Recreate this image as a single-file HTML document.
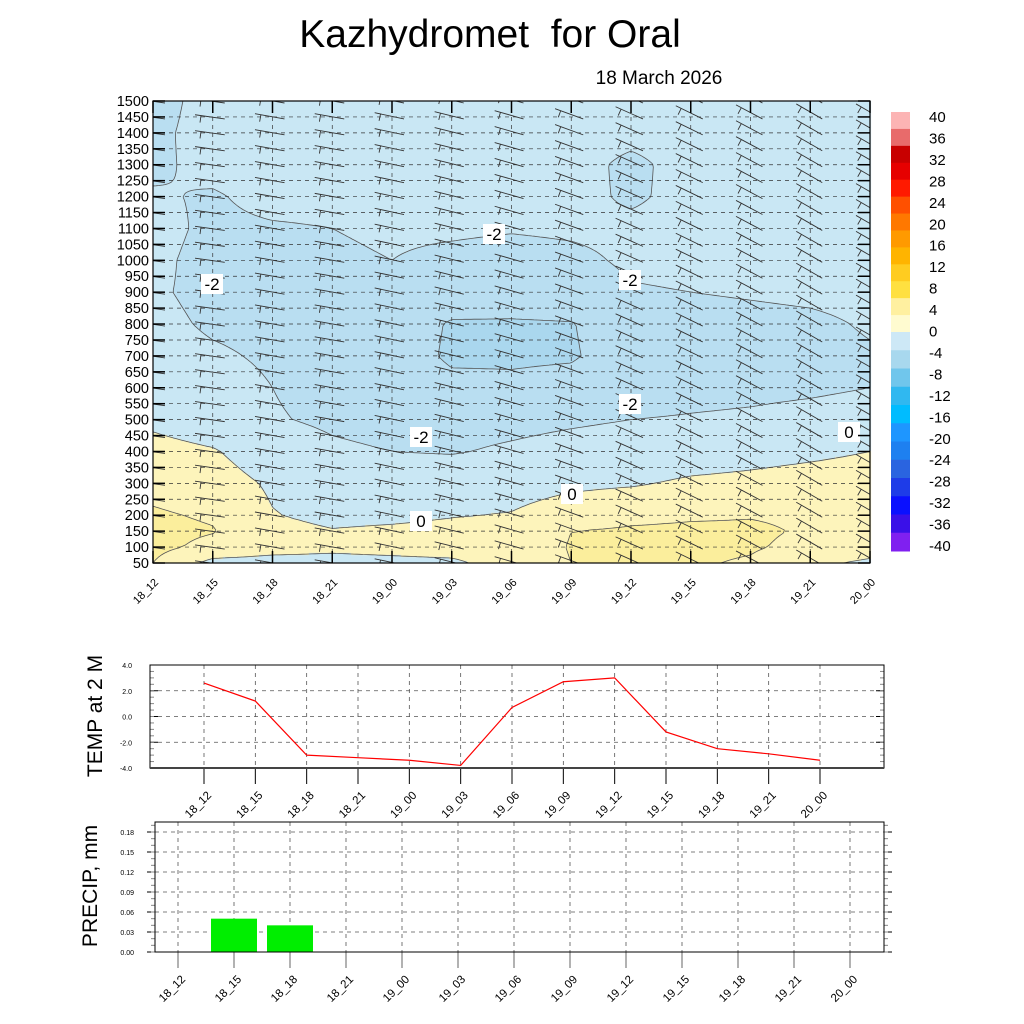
<!DOCTYPE html>
<html><head><meta charset="utf-8"><style>
html,body{margin:0;padding:0;background:#fff;}
#wrap{position:relative;width:1024px;height:1024px;overflow:hidden;font-family:"Liberation Sans",sans-serif;}
canvas{position:absolute;left:0;top:0;}
svg{position:absolute;left:0;top:0;}
</style></head><body>
<div id="wrap">
<canvas id="fill" width="1024" height="1024"></canvas>
<svg id="svg" width="1024" height="1024" xmlns="http://www.w3.org/2000/svg">
<defs><clipPath id="mainclip"><rect x="153" y="101" width="717" height="462"/></clipPath></defs>
<text x="490" y="47" font-size="39" text-anchor="middle" font-family="Liberation Sans" xml:space="preserve" style="white-space:pre">Kazhydromet  for Oral</text>
<text x="659" y="84" font-size="19" text-anchor="middle" font-family="Liberation Sans">18 March 2026</text>
</svg>
</div>
<script>
const times=['18_12','18_15','18_18','18_21','19_00','19_03','19_06','19_09','19_12','19_15','19_18','19_21','20_00'];
const levelLabels=[1500,1450,1400,1350,1300,1250,1200,1150,1100,1050,1000,950,900,850,800,750,700,650,600,550,500,450,400,350,300,250,200,150,100,50];
const gridP=[1500,1400,1300,1200,1100,1000,900,800,700,600,500,400,300,200,150,100,50];
const gridT=[
[-2.5,-1.5,-1.5,-1.5,-1.5,-1.5,-1.5,-1.5,-1.5,-1.5,-1.5,-1.5,-1.5],
[-2.3,-1.5,-1.5,-1.5,-1.5,-1.5,-1.5,-1.5,-1.6,-1.5,-1.5,-1.5,-1.5],
[-2.2,-1.7,-1.5,-1.5,-1.5,-1.5,-1.5,-1.5,-2.3,-1.5,-1.5,-1.5,-1.5],
[-1.9,-2.1,-1.7,-1.7,-1.6,-1.6,-1.6,-1.6,-2.2,-1.6,-1.6,-1.6,-1.6],
[-1.7,-2.2,-2.1,-2.0,-1.8,-1.8,-1.9,-1.8,-1.7,-1.6,-1.6,-1.6,-1.6],
[-1.8,-2.3,-2.4,-2.2,-2.0,-2.3,-2.5,-2.3,-1.8,-1.7,-1.7,-1.7,-1.7],
[-1.9,-2.2,-2.6,-2.5,-2.5,-2.8,-3.0,-2.8,-2.1,-2.0,-1.9,-1.8,-1.7],
[-1.8,-2.1,-2.2,-2.5,-2.8,-4.2,-4.2,-4.1,-2.8,-2.4,-2.3,-2.2,-1.9],
[-1.7,-1.9,-2.1,-2.5,-3.0,-4.3,-4.3,-4.2,-3.0,-2.6,-2.5,-2.3,-2.1],
[-1.5,-1.7,-2.0,-2.4,-2.8,-3.5,-3.6,-3.3,-2.6,-2.4,-2.3,-2.2,-2.0],
[-0.5,-1.4,-1.9,-2.2,-2.4,-2.5,-2.4,-2.2,-2.0,-1.9,-1.8,-1.6,-1.4],
[0.8,0.2,-1.3,-1.8,-2.0,-2.1,-1.8,-1.5,-1.3,-1.0,-0.7,-0.4,0.0],
[1.5,1.0,-0.3,-1.1,-1.1,-1.0,-0.8,-0.4,-0.2,0.3,0.5,0.8,1.0],
[2.2,1.8,0.1,-0.5,-0.4,-0.1,0.1,1.0,1.6,1.8,1.9,1.7,1.2],
[2.5,2.1,0.6,0.1,0.3,0.5,0.8,2.0,2.2,2.3,2.3,1.8,1.3],
[2.5,1.5,0.8,0.5,0.7,0.9,1.0,2.1,2.4,2.4,2.2,1.5,1.0],
[2.0,-0.6,-0.8,-0.8,-0.6,-0.4,1.0,2.0,2.2,2.2,1.8,0.5,-0.4]];
const windDir=[8,8,10,10,12,14,16,20,24,26,28,30,30];
const contourLevels=[-4,-2,0,2];
const cbLabels=[40,36,32,28,24,20,16,12,8,4,0,-4,-8,-12,-16,-20,-24,-28,-32,-36,-40];
const tempVals=[2.6,1.2,-3.0,-3.2,-3.4,-3.8,0.7,2.7,3.0,-1.2,-2.5,-2.9,-3.4];
const tempTicks=[4.0,2.0,0.0,-2.0,-4.0];
const precipVals=[0,0.05,0.04,0,0,0,0,0,0,0,0,0,0];
const precipTicks=[0.00,0.03,0.06,0.09,0.12,0.15,0.18];

const NS='http://www.w3.org/2000/svg';
const svg=document.getElementById('svg');
function mk(tag,attrs,parent){const e=document.createElementNS(NS,tag);for(const k in attrs)e.setAttribute(k,attrs[k]);(parent||svg).appendChild(e);return e;}

const X0=153,X1=870,Y0=101,Y1=563;
const xOf=i=>X0+i*(X1-X0)/(times.length-1);
const yOf=p=>Y1-(p-50)/1450*(Y1-Y0);
const pOf=y=>50+(Y1-y)/(Y1-Y0)*1450;
function field(x,y){
  const t=(x-X0)/(X1-X0)*(times.length-1);
  let i=Math.max(0,Math.min(times.length-2,Math.floor(t)));const ft=t-i;
  const p=pOf(y);
  let j=0;while(j<gridP.length-2&&p<gridP[j+1])j++;
  const fp=(gridP[j]-p)/(gridP[j]-gridP[j+1]);
  const a=gridT[j][i]*(1-ft)+gridT[j][i+1]*ft;
  const b=gridT[j+1][i]*(1-ft)+gridT[j+1][i+1]*ft;
  return a*(1-fp)+b*fp;
}
function colorFor(v){
  if(v>=2)return '#fbee9c';
  if(v>=0)return '#fdf4bb';
  if(v>=-2)return '#c9e7f4';
  if(v>=-4)return '#b9def1';
  return '#aad7ee';
}
const ctx=document.getElementById('fill').getContext('2d');
for(let y=Y0;y<Y1;y+=2){for(let x=X0;x<X1;x+=2){ctx.fillStyle=colorFor(field(x+1,y+1));ctx.fillRect(x,y,2,2);}}

const cbStops=['#fcb4b4','#e86b6b','#c80000','#e60000','#ff1a00','#ff5000','#ff7800','#ff9a00','#ffb400','#ffcc20','#ffe040','#fff0a0','#fffbd0'];
const cbBlue=['#cde8f6','#a8d8ee','#70c6ec','#30b8f0','#00bcff','#1e96ff','#1e80f0','#2a64e0','#1e3ce8','#0a10ff','#3a10e8','#8020f0'];
const cbTop=112,cbBot=551,cbMid=332;
cbStops.forEach((c,k)=>{const h=(cbMid-cbTop)/cbStops.length;const r=mk('rect',{x:891,y:cbTop+k*h,width:19,height:h+0.5,fill:c});});
cbBlue.forEach((c,k)=>{const h=(cbBot-cbMid)/cbBlue.length;const r=mk('rect',{x:891,y:cbMid+k*h,width:19,height:h+0.5,fill:c});});
cbLabels.forEach((v,k)=>{const t=mk('text',{x:929,y:cbTop+5+k*(cbBot-cbTop-10)/(cbLabels.length-1)+5,'font-size':15});t.textContent=v;});

let d='';const S=3;
const nx=Math.floor((X1-X0)/S),ny=Math.floor((Y1-Y0)/S);
const F=[];for(let j=0;j<=ny;j++){F[j]=[];for(let i=0;i<=nx;i++)F[j][i]=field(X0+i*S,Y0+j*S);}
contourLevels.forEach(L=>{
 for(let j=0;j<ny;j++)for(let i=0;i<nx;i++){
  const v=[F[j][i],F[j][i+1],F[j+1][i+1],F[j+1][i]];
  const px=[[0,0],[1,0],[1,1],[0,1]];
  const pts=[];
  for(let e=0;e<4;e++){const a=v[e],b=v[(e+1)%4];if((a<L)!==(b<L)){const f=(L-a)/(b-a);const p1=px[e],p2=px[(e+1)%4];pts.push([X0+(i+p1[0]+(p2[0]-p1[0])*f)*S,Y0+(j+p1[1]+(p2[1]-p1[1])*f)*S]);}}
  if(pts.length>=2)d+='M'+pts[0][0].toFixed(1)+' '+pts[0][1].toFixed(1)+'L'+pts[1][0].toFixed(1)+' '+pts[1][1].toFixed(1);
  if(pts.length===4)d+='M'+pts[2][0].toFixed(1)+' '+pts[2][1].toFixed(1)+'L'+pts[3][0].toFixed(1)+' '+pts[3][1].toFixed(1);
 }});
const cl=mk('path',{d:d,stroke:'#555',fill:'none','stroke-width':0.8});


const gg=mk('g',{stroke:'#333','stroke-width':0.7,'stroke-dasharray':'4,4'});

levelLabels.forEach(p=>mk('line',{x1:X0,x2:X1,y1:yOf(p),y2:yOf(p)},gg));
times.forEach((t,i)=>mk('line',{x1:xOf(i),x2:xOf(i),y1:Y0,y2:Y1},gg));

const bg=mk('g',{stroke:'#333','stroke-width':0.9,fill:'none','clip-path':'url(#mainclip)'});

times.forEach((t,i)=>{levelLabels.forEach(p=>{
 const a=windDir[i]*Math.PI/180;const sx=xOf(i)+12,sy=yOf(p)+2;
 const L=30;const tx=sx-L*Math.cos(a),ty=sy-L*Math.sin(a);
 const bx=tx+6*Math.cos(a),by=ty+6*Math.sin(a);
 mk('path',{d:`M${sx} ${sy}L${tx} ${ty}M${bx} ${by}l${-7*Math.sin(a)} ${7*Math.cos(a)}`},bg);
});});

[[212,284,'-2'],[494,234,'-2'],[630,280,'-2'],[421,437,'-2'],[630,404,'-2'],[572,494,'0'],[421,521,'0'],[849,432,'0']].forEach(c=>{
 mk('rect',{x:c[0]-11,y:c[1]-10,width:22,height:20,fill:'#fff'});
 const t=mk('text',{x:c[0],y:c[1]+6,'font-size':17,'text-anchor':'middle'});t.textContent=c[2];
 });

const fr=mk('rect',{x:X0,y:Y0,width:X1-X0,height:Y1-Y0,fill:'none',stroke:'#000','stroke-width':1.2});

levelLabels.forEach(p=>{const y=yOf(p);mk('line',{x1:X0,x2:X0+12,y1:y,y2:y,stroke:'#000','stroke-width':1.5});mk('line',{x1:X1-12,x2:X1,y1:y,y2:y,stroke:'#000','stroke-width':1.5});
 const t=mk('text',{x:X0-4,y:y+5,'font-size':14.5,'text-anchor':'end'});t.textContent=p;});
times.forEach((tm,i)=>{const x=xOf(i);mk('line',{x1:x,x2:x,y1:Y0,y2:Y0+12,stroke:'#000','stroke-width':1.5});mk('line',{x1:x,x2:x,y1:Y1,y2:Y1-12,stroke:'#000','stroke-width':1.5});
 const t=mk('text',{x:0,y:0,'font-size':11,'text-anchor':'end',transform:`translate(${x+6},${Y1+20}) rotate(-45)`});t.textContent=tm;});

const TX0=150,TX1=884,TY0=665,TY1=768;
const txOf=i=>204+i*(820-204)/(times.length-1);
const tyOf=v=>TY1-(v+4)/8*(TY1-TY0);
const tg=mk('g',{});
tempTicks.forEach(v=>{const y=tyOf(v);if(v>-4&&v<4)mk('line',{x1:TX0,x2:TX1,y1:y,y2:y,stroke:'#555','stroke-dasharray':'4,4','stroke-width':0.8},tg);
 mk('line',{x1:TX0,x2:TX0+8,y1:y,y2:y,stroke:'#000'},tg);mk('line',{x1:TX1-8,x2:TX1,y1:y,y2:y,stroke:'#000'},tg);
 const t=mk('text',{x:TX0-18,y:y+3,'font-size':7,'text-anchor':'end'},tg);t.textContent=v.toFixed(1);});
for(let v=-4;v<=4;v+=0.5){const y=tyOf(v);mk('line',{x1:TX0,x2:TX0+4,y1:y,y2:y,stroke:'#888'},tg);mk('line',{x1:TX1-4,x2:TX1,y1:y,y2:y,stroke:'#888'},tg);}
times.forEach((tm,i)=>{const x=txOf(i);mk('line',{x1:x,x2:x,y1:TY0,y2:TY1,stroke:'#555','stroke-dasharray':'4,4','stroke-width':0.8},tg);
 mk('line',{x1:x,x2:x,y1:TY1,y2:TY1+16,stroke:'#000'},tg);
 const t=mk('text',{x:0,y:0,'font-size':11.5,'text-anchor':'end',transform:`translate(${x+8},${TY1+28}) rotate(-45)`},tg);t.textContent=tm;});
mk('rect',{x:TX0,y:TY0,width:TX1-TX0,height:TY1-TY0,fill:'none',stroke:'#000'},tg);
mk('line',{x1:TX0,x2:TX1,y1:TY1,y2:TY1,stroke:'#444','stroke-width':2},tg);
const tl=mk('polyline',{points:tempVals.map((v,i)=>txOf(i)+','+tyOf(v)).join(' '),fill:'none',stroke:'#f00','stroke-width':1.2},tg);

const ty=mk('text',{x:0,y:0,'font-size':21,'text-anchor':'middle',transform:'translate(102,716) rotate(-90)'});ty.textContent='TEMP at 2 M';

const PX0=155,PX1=884,PY0=822,PY1=952;
const pxOf=i=>178+i*(850-178)/(times.length-1);
const pyOf=v=>PY1-v/0.18*(PY1-832);
const pg=mk('g',{});
precipTicks.forEach(v=>{const y=pyOf(v);if(v>0)mk('line',{x1:PX0,x2:PX1,y1:y,y2:y,stroke:'#555','stroke-dasharray':'4,4','stroke-width':0.8},pg);
 mk('line',{x1:PX0-8,x2:PX0,y1:y,y2:y,stroke:'#000'},pg);mk('line',{x1:PX1,x2:PX1+8,y1:y,y2:y,stroke:'#000'},pg);
 const t=mk('text',{x:PX0-21,y:y+3,'font-size':7,'text-anchor':'end'},pg);t.textContent=v.toFixed(2);});
for(let v=0;v<=0.195;v+=0.01){const y=pyOf(v);mk('line',{x1:PX0-4,x2:PX0,y1:y,y2:y,stroke:'#888'},pg);mk('line',{x1:PX1,x2:PX1+4,y1:y,y2:y,stroke:'#888'},pg);}
times.forEach((tm,i)=>{const x=pxOf(i);mk('line',{x1:x,x2:x,y1:PY0,y2:PY1,stroke:'#555','stroke-dasharray':'4,4','stroke-width':0.8},pg);
 mk('line',{x1:x,x2:x,y1:PY1,y2:PY1+16,stroke:'#666'},pg);
 const t=mk('text',{x:0,y:0,'font-size':11.5,'text-anchor':'end',transform:`translate(${x+8},${PY1+28}) rotate(-45)`},pg);t.textContent=tm;});
precipVals.forEach((v,i)=>{if(v<=0)return;const b=mk('rect',{x:pxOf(i)-23,y:pyOf(v),width:46,height:PY1-pyOf(v),fill:'#00ee00'},pg);
 });
mk('rect',{x:PX0,y:PY0,width:PX1-PX0,height:PY1-PY0,fill:'none',stroke:'#000'},pg);
const py=mk('text',{x:0,y:0,'font-size':21,'text-anchor':'middle',transform:'translate(97,886) rotate(-90)'});py.textContent='PRECIP, mm';
</script>
</body></html>
